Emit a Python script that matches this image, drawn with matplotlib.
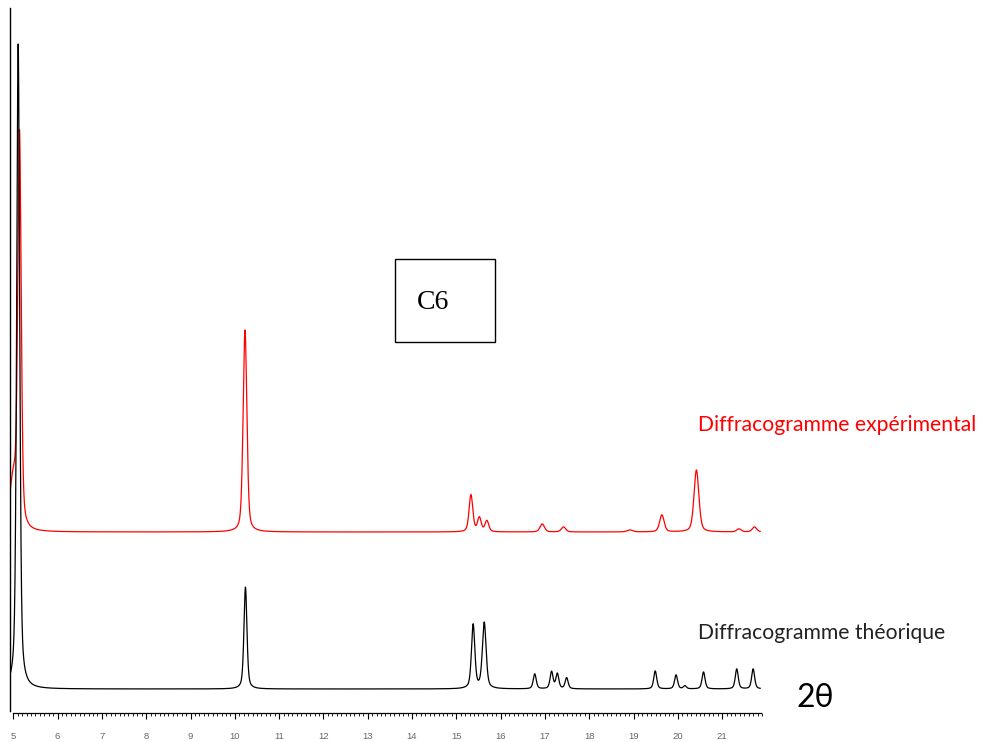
import numpy as np
import matplotlib
matplotlib.use("Agg")
import matplotlib.pyplot as plt
from matplotlib.patches import Rectangle
from matplotlib.ticker import MultipleLocator, FixedLocator

# ---------------- data ----------------
# Theoretical pattern: peak positions (deg 2theta), heights (a.u.), FWHM (deg)
theo_pos = [5.11, 10.24, 15.38, 15.63, 16.77, 17.15, 17.28, 17.49,
            19.49, 19.96, 20.16, 20.58, 21.33, 21.70]
theo_height = [645, 102, 64, 66, 15, 17, 15, 11,
               18, 14, 3, 17, 20, 20]
theo_fwhm = [0.08, 0.08, 0.09, 0.10, 0.08, 0.08, 0.08, 0.08,
             0.08, 0.08, 0.08, 0.08, 0.08, 0.08]
theo_base = 24

# Experimental pattern
exp_pos = [5.00, 5.14, 10.23, 15.33, 15.52, 15.69, 16.94, 17.42,
           18.92, 19.64, 20.42, 21.38, 21.73]
exp_height = [50, 388, 202, 37, 14, 11, 8, 5,
              2, 17, 62, 3, 5]
exp_fwhm = [0.20, 0.09, 0.10, 0.10, 0.10, 0.10, 0.12, 0.12,
            0.15, 0.12, 0.13, 0.12, 0.12]
exp_base = 181

x_ticks = list(range(5, 22))
label_exp = "Diffracogramme expérimental"
label_theo = "Diffracogramme théorique"
label_axis = "2θ"
label_sample = "C6"

# ---------------- profile construction ----------------
two_theta = np.arange(4.93, 21.86, 0.004)


def pseudo_voigt(x, pos, height, fwhm, eta):
    y = np.zeros_like(x)
    for p, h, w in zip(pos, height, fwhm):
        g = np.exp(-4 * np.log(2) * ((x - p) / w) ** 2)
        l = 1.0 / (1.0 + ((x - p) / (w / 2)) ** 2)
        y += h * (eta * l + (1 - eta) * g)
    return y


theo_curve = theo_base + pseudo_voigt(two_theta, theo_pos, theo_height, theo_fwhm, 0.5)
exp_curve = exp_base + pseudo_voigt(two_theta, exp_pos, exp_height, exp_fwhm, 0.4)

# ---------------- figure ----------------
W, H = 988, 742
fig = plt.figure(figsize=(W / 100, H / 100), dpi=100)
fig.patch.set_facecolor("white")

ax_l, ax_r, ax_t, ax_b = 9.5, 762, 8, 713
ax = fig.add_axes([ax_l / W, 1 - ax_b / H, (ax_r - ax_l) / W, (ax_b - ax_t) / H])
ax.set_xlim(4.914, 21.90)
ax.set_ylim(0, ax_b - ax_t)

ax.plot(two_theta, exp_curve, color="#ff0000", lw=0.9)
ax.plot(two_theta, theo_curve, color="black", lw=0.9)

for s in ["top", "right"]:
    ax.spines[s].set_visible(False)
ax.spines["left"].set_linewidth(1.0)
ax.spines["left"].set_bounds(2.5, ax_b - ax_t)
ax.spines["bottom"].set_linewidth(0.9)
ax.spines["bottom"].set_bounds(5.0, 21.88)

ax.set_yticks([])
ax.xaxis.set_major_locator(FixedLocator(x_ticks))
ax.xaxis.set_minor_locator(MultipleLocator(0.1))
ax.tick_params(axis="x", which="major", direction="out", length=4.4, width=0.8,
               pad=9, labelsize=6.8, labelcolor="#666666")
ax.tick_params(axis="x", which="minor", direction="out", length=2.4, width=0.6)
for lab in ax.get_xticklabels():
    lab.set_fontfamily("Liberation Sans")

# ---------------- annotations ----------------
def fx(px):
    return px / W


def fy(py):
    return 1 - py / H


fig.text(fx(698), fy(425), label_exp, color="#ff0000", fontsize=15.2,
         family=["Lato", "DejaVu Sans"], ha="left", va="center")
fig.text(fx(698), fy(633), label_theo, color="#222222", fontsize=15.2,
         family=["Lato", "DejaVu Sans"], ha="left", va="center")
fig.text(fx(815), fy(698), label_axis, color="black", fontsize=23,
         family=["Lato", "DejaVu Sans"], ha="center", va="center")

fig.patches.append(Rectangle((fx(395), fy(342)), (495 - 395) / W, (342 - 259) / H,
                             transform=fig.transFigure, fill=False,
                             edgecolor="black", lw=1.0))
fig.text(fx(433), fy(303), label_sample, color="black", fontsize=20,
         family=["Liberation Serif", "DejaVu Serif"], ha="center", va="center")

fig.savefig("out.png", dpi=100)
